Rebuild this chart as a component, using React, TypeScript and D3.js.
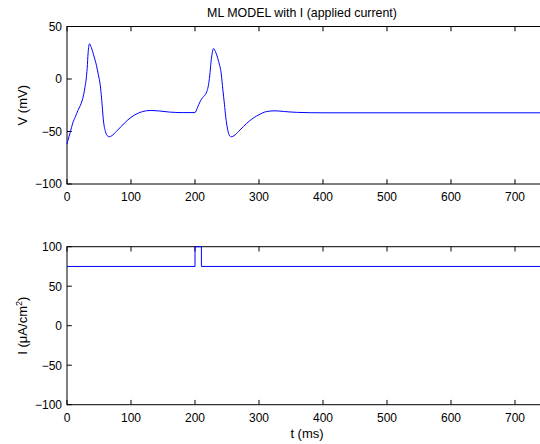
import React from "react";
import * as d3 from "d3";

const timeV = [0, 1, 5, 9, 13, 17, 21, 26, 28, 30, 31.5, 33, 35, 38, 42, 46, 49, 52, 54, 57, 60, 63, 66, 70, 77, 85, 95, 105, 118, 130, 145, 160, 180, 200, 204, 208, 212, 216, 219, 221, 223, 225, 227, 229, 232, 237, 241, 243.5, 246, 248, 251, 254, 257, 261, 268, 276, 285, 300, 312, 325, 340, 360, 400, 500, 600, 700, 750];
const voltage = [-62, -59.5, -51, -42, -36, -30, -25, -15, -8, 0, 10, 25, 33.5, 30, 22, 13, 4, -6, -18, -40, -50, -54, -55, -54, -50, -45, -39, -34.5, -31, -30, -30.5, -31.5, -32, -32, -27, -21.5, -17.5, -15, -11, -6, 3, 16, 25, 29, 26, 16.5, 5, -10, -24, -36, -48, -54, -55, -54, -50, -45, -40, -34, -31, -30.3, -31, -31.8, -32.2, -32.2, -32.2, -32.2, -32.2];

const timeI = [0, 200, 200, 210, 210, 750];
const current = [75, 75, 100, 100, 75, 75];

const xTicks = [0, 100, 200, 300, 400, 500, 600, 700];
const vTicks = [-100, -50, 0, 50];
const iTicks = [-100, -50, 0, 50, 100];

const W = 540;
const H = 444;
const left = 67;
const right = 547;
const top1 = 26.5;
const bot1 = 184;
const top2 = 246.7;
const bot2 = 404.7;
const font = "'Liberation Sans', Arial, Helvetica, sans-serif";
const tickFs = 12;
const labelFs = 13;
const fmt = (v: number) => (v < 0 ? "\u2212" + Math.abs(v) : String(v));

function Panel({
  yScale, xScale, yTicks, top, bottom,
}: {
  yScale: d3.ScaleLinear<number, number>;
  xScale: d3.ScaleLinear<number, number>;
  yTicks: number[];
  top: number;
  bottom: number;
}) {
  const tl = 4.8;
  return (
    <g>
      <rect x={left} y={top} width={right - left} height={bottom - top} fill="white" stroke="black" strokeWidth={1} />
      {xTicks.map((t) => {
        const x = xScale(t);
        return (
          <g key={"x" + t}>
            <line x1={x} x2={x} y1={bottom} y2={bottom - tl} stroke="black" />
            <line x1={x} x2={x} y1={top} y2={top + tl} stroke="black" />
            <text x={x} y={bottom + 17} textAnchor="middle" fontSize={tickFs} fontFamily={font}>{fmt(t)}</text>
          </g>
        );
      })}
      {yTicks.map((v) => {
        const y = yScale(v);
        return (
          <g key={"y" + v}>
            <line x1={left} x2={left + tl} y1={y} y2={y} stroke="black" />
            <line x1={right} x2={right - tl} y1={y} y2={y} stroke="black" />
            <text x={left - 5} y={y + 4.3} textAnchor="end" fontSize={tickFs} fontFamily={font}>{fmt(v)}</text>
          </g>
        );
      })}
    </g>
  );
}

export default function App() {
  const x = d3.scaleLinear().domain([0, 750]).range([left, right]);
  const yV = d3.scaleLinear().domain([-100, 50]).range([bot1, top1]);
  const yI = d3.scaleLinear().domain([-100, 100]).range([bot2, top2]);

  const vLine = d3
    .line<number>()
    .x((_, i) => x(timeV[i]))
    .y((d) => yV(d))
    .curve(d3.curveMonotoneX)(voltage) as string;
  const iLine = d3
    .line<number>()
    .x((_, i) => x(timeI[i]))
    .y((d) => yI(d))(current) as string;

  const midX = (left + right) / 2;
  return (
    <svg width={W} height={H} style={{ position: "absolute", left: 0, top: 0, background: "white" }}>
      <rect width={W} height={H} fill="white" />
      <Panel yScale={yV} xScale={x} yTicks={vTicks} top={top1} bottom={bot1} />
      <Panel yScale={yI} xScale={x} yTicks={iTicks} top={top2} bottom={bot2} />
      <path d={vLine} fill="none" stroke="#0000ff" strokeWidth={1} />
      <path d={iLine} fill="none" stroke="#0000ff" strokeWidth={1} />
      <text x={midX - 5} y={17} textAnchor="middle" fontSize={12.4} fontFamily={font}>ML MODEL with I (applied current)</text>
      <text transform={`translate(26.5,${(top1 + bot1) / 2}) rotate(-90)`} textAnchor="middle" fontSize={labelFs} fontFamily={font}>V (mV)</text>
      <text transform={`translate(27,${(top2 + bot2) / 2}) rotate(-90)`} textAnchor="middle" fontSize={labelFs} fontFamily={font}>
        I (μA/cm<tspan dy={-5} fontSize={9}>2</tspan><tspan dy={5}>)</tspan>
      </text>
      <text x={midX} y={437.5} textAnchor="middle" fontSize={labelFs} fontFamily={font}>t (ms)</text>
    </svg>
  );
}
